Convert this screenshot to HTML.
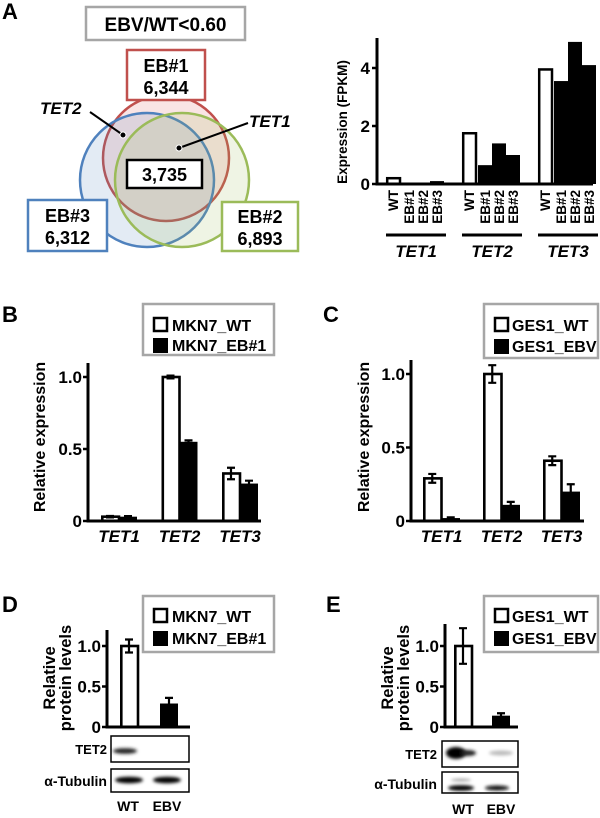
<!DOCTYPE html>
<html><head><meta charset="utf-8">
<style>
html,body{margin:0;padding:0;background:#fff;}
svg{display:block;font-family:"Liberation Sans",sans-serif;font-weight:bold;}
</style></head>
<body>
<svg id="fig" width="600" height="818" viewBox="0 0 600 818" xmlns="http://www.w3.org/2000/svg">
<defs>
<filter id="blur" x="-50%" y="-100%" width="200%" height="300%"><feGaussianBlur stdDeviation="1.6"/></filter>
</defs>
<text x="2" y="19" font-size="22">A</text>
<text x="2" y="322" font-size="22">B</text>
<text x="323" y="322" font-size="22">C</text>
<text x="2" y="612" font-size="22">D</text>
<text x="326" y="612" font-size="22">E</text>

<g>
<circle cx="166" cy="158" r="63" fill="rgba(215,90,90,0.16)" stroke="#c0504d" stroke-width="2.5"/>
<circle cx="147" cy="180" r="67" fill="rgba(79,129,189,0.16)" stroke="#4f81bd" stroke-width="2.5"/>
<circle cx="182" cy="180" r="67" fill="rgba(155,187,89,0.16)" stroke="#9bbb59" stroke-width="2.5"/>
<rect x="86" y="7" width="159" height="33" fill="#fff" stroke="#a6a6a6" stroke-width="2.5"/>
<text x="165.5" y="31" font-size="19" text-anchor="middle">EBV/WT&lt;0.60</text>
<rect x="127" y="50" width="78" height="50" fill="#fff" stroke="#c0504d" stroke-width="2.5"/>
<text x="166" y="72" font-size="18" text-anchor="middle">EB#1</text>
<text x="166" y="94" font-size="18" text-anchor="middle">6,344</text>
<rect x="28" y="200" width="79" height="51" fill="#fff" stroke="#4f81bd" stroke-width="2.5"/>
<text x="67.5" y="222" font-size="18" text-anchor="middle">EB#3</text>
<text x="67.5" y="244" font-size="18" text-anchor="middle">6,312</text>
<rect x="222" y="202" width="76" height="49" fill="#fff" stroke="#9bbb59" stroke-width="2.5"/>
<text x="260" y="223" font-size="18" text-anchor="middle">EB#2</text>
<text x="260" y="245" font-size="18" text-anchor="middle">6,893</text>
<rect x="127" y="160" width="75" height="28" fill="#fff" stroke="#000" stroke-width="2.5"/>
<text x="164.5" y="181" font-size="18" text-anchor="middle">3,735</text>
<line x1="90" y1="112" x2="123" y2="135" stroke="#000" stroke-width="2"/>
<circle cx="123" cy="135" r="3" fill="#000" stroke="#fff" stroke-width="1"/>
<text x="40" y="114" font-size="17" font-style="italic">TET2</text>
<line x1="248" y1="123" x2="179" y2="148" stroke="#000" stroke-width="2"/>
<circle cx="179" cy="148" r="3" fill="#000" stroke="#fff" stroke-width="1"/>
<text x="249" y="127" font-size="17" font-style="italic">TET1</text>
</g>

<g id="chartA"></g>
<g id="chartB"></g>
<g id="chartC"></g>
<g id="chartD"></g>
<g id="chartE"></g>

<g>
<rect x="143" y="304" width="131" height="51" fill="#fff" stroke="#a6a6a6" stroke-width="2.5"/>
<rect x="154" y="318" width="13" height="13" fill="#fff" stroke="#000" stroke-width="2.5"/>
<text x="172" y="331" font-size="16">MKN7_WT</text>
<rect x="153" y="338" width="15" height="15" fill="#000"/>
<text x="172" y="351" font-size="16">MKN7_EB#1</text>
</g>
<g>
<rect x="484" y="304" width="114" height="54" fill="#fff" stroke="#a6a6a6" stroke-width="2.5"/>
<rect x="495" y="318" width="13" height="13" fill="#fff" stroke="#000" stroke-width="2.5"/>
<text x="512" y="331" font-size="16">GES1_WT</text>
<rect x="494" y="339" width="15" height="15" fill="#000"/>
<text x="512" y="352" font-size="16">GES1_EBV</text>
</g>
<g>
<rect x="143" y="596" width="131" height="56" fill="#fff" stroke="#a6a6a6" stroke-width="2.5"/>
<rect x="154" y="609" width="13" height="13" fill="#fff" stroke="#000" stroke-width="2.5"/>
<text x="172" y="622" font-size="16">MKN7_WT</text>
<rect x="153" y="631" width="15" height="15" fill="#000"/>
<text x="172" y="644" font-size="16">MKN7_EB#1</text>
</g>
<g>
<rect x="484" y="596" width="114" height="56" fill="#fff" stroke="#a6a6a6" stroke-width="2.5"/>
<rect x="495" y="609" width="13" height="13" fill="#fff" stroke="#000" stroke-width="2.5"/>
<text x="512" y="622" font-size="16">GES1_WT</text>
<rect x="494" y="631" width="15" height="15" fill="#000"/>
<text x="512" y="644" font-size="16">GES1_EBV</text>
</g>

<g>
<rect x="111" y="736" width="78" height="26" fill="#fff" stroke="#000" stroke-width="1.5"/>
<ellipse cx="125" cy="751" rx="12" ry="2.8" fill="#222" filter="url(#blur)"/>
<rect x="111" y="769" width="78" height="23" fill="#fff" stroke="#000" stroke-width="1.5"/>
<ellipse cx="129" cy="780" rx="14" ry="3.3" fill="#000" filter="url(#blur)"/>
<ellipse cx="167" cy="780" rx="14" ry="3.3" fill="#000" filter="url(#blur)"/>
<text x="107" y="754" font-size="13" text-anchor="end">TET2</text>
<text x="107" y="786" font-size="14" text-anchor="end">α-Tubulin</text>
<text x="128" y="811" font-size="14" text-anchor="middle">WT</text>
<text x="167" y="811" font-size="14" text-anchor="middle">EBV</text>
</g>
<g>
<rect x="442" y="741" width="76" height="26" fill="#fff" stroke="#000" stroke-width="1.5"/>
<ellipse cx="456" cy="753" rx="10" ry="6" fill="#000" filter="url(#blur)"/>
<ellipse cx="468" cy="753" rx="8" ry="3" fill="#222" filter="url(#blur)"/>
<ellipse cx="501" cy="753" rx="12" ry="2.5" fill="#bbb" filter="url(#blur)"/>
<rect x="442" y="772" width="76" height="21" fill="#fff" stroke="#000" stroke-width="1.5"/>
<ellipse cx="461" cy="788" rx="13" ry="2.8" fill="#000" filter="url(#blur)"/>
<ellipse cx="497" cy="788" rx="12" ry="2.5" fill="#111" filter="url(#blur)"/>
<ellipse cx="461" cy="780" rx="10" ry="1.2" fill="#999" filter="url(#blur)"/>
<text x="437" y="759" font-size="13" text-anchor="end">TET2</text>
<text x="437" y="789" font-size="14" text-anchor="end">α-Tubulin</text>
<text x="463" y="814" font-size="14" text-anchor="middle">WT</text>
<text x="501" y="814" font-size="14" text-anchor="middle">EBV</text>
</g>
</svg>
<script>
const fpkmGenes = ["TET1", "TET2", "TET3"];
const fpkmSamples = ["WT", "EB#1", "EB#2", "EB#3"];
const fpkmTET1 = [0.2, 0.05, 0.05, 0.1];
const fpkmTET2 = [1.75, 0.65, 1.4, 1.0];
const fpkmTET3 = [3.95, 3.55, 4.9, 4.1];
const fpkmTicks = [0, 2, 4];
const qpcrGenes = ["TET1", "TET2", "TET3"];
const mkn7WT = [0.03, 1.0, 0.33];
const mkn7WTErr = [0.005, 0.01, 0.04];
const mkn7EB = [0.03, 0.55, 0.26];
const mkn7EBErr = [0.004, 0.01, 0.02];
const ges1WT = [0.29, 1.0, 0.41];
const ges1WTErr = [0.03, 0.06, 0.03];
const ges1EB = [0.02, 0.11, 0.2];
const ges1EBErr = [0.005, 0.02, 0.05];
const relTicks = [0, 0.5, 1.0];
const relTickLabels = ["0", "0.5", "1.0"];
const proteinCats = ["WT", "EBV"];
const mkn7Protein = [1.0, 0.29];
const mkn7ProteinErr = [0.08, 0.07];
const ges1Protein = [1.0, 0.14];
const ges1ProteinErr = [0.22, 0.03];

const NS = "http://www.w3.org/2000/svg";
function mk(parent, tag, attrs, txt) {
  const e = document.createElementNS(NS, tag);
  for (const k in attrs) e.setAttribute(k, attrs[k]);
  if (txt !== undefined) e.textContent = txt;
  parent.appendChild(e);
  return e;
}

(function () {
  const g = document.getElementById("chartA");
  const x0 = 377, y0 = 184, unit = 29, yTop = 38, xEnd = 593;
  const y = v => y0 - v * unit;
  const groupX = i => 386 + i * 76;
  const bw = 14;
  const series = [fpkmTET1, fpkmTET2, fpkmTET3];
  series.forEach((vals, gi) => {
    vals.forEach((v, si) => {
      const bx = groupX(gi) + si * bw + (si > 0 ? 2 : 0);
      let r;
      if (si === 0) {
        r = mk(g, "rect", {x: bx + 1.2, y: y(v), width: bw - 1.2, height: y0 - y(v), fill: "#fff", stroke: "#000", "stroke-width": 2.5});
      } else {
        r = mk(g, "rect", {x: bx, y: y(v), width: bw, height: y0 - y(v), fill: "#000"});
      }
      
      
      const t = mk(g, "text", {x: 0, y: 0, "font-size": 13.5, "text-anchor": "end", transform: "translate(" + (bx + bw / 2 + 5) + ",190) rotate(-90)"}, fpkmSamples[si]);
      
      
    });
    const gl = mk(g, "line", {x1: groupX(gi), x2: groupX(gi) + 60, y1: 235, y2: 235, stroke: "#000", "stroke-width": 3});
    
    
    const gt = mk(g, "text", {x: groupX(gi) + 30, y: 257, "font-size": 17, "font-style": "italic", "text-anchor": "middle"}, fpkmGenes[gi]);
    
    
  });
  const ax = mk(g, "path", {d: "M" + x0 + "," + yTop + "V" + y0 + "H" + xEnd, fill: "none", stroke: "#000", "stroke-width": 3});
  
  
  fpkmTicks.forEach(tv => {
    mk(g, "line", {x1: x0 - 5, x2: x0, y1: y(tv), y2: y(tv), stroke: "#000", "stroke-width": 2.5});
    const tl = mk(g, "text", {x: x0 - 7, y: y(tv) + 6, "font-size": 17, "text-anchor": "end"}, String(tv));
    
    
  });
  const yt = mk(g, "text", {x: 0, y: 0, "font-size": 13.5, "text-anchor": "middle", transform: "translate(347,122) rotate(-90)"}, "Expression (FPKM)");
  
  
})();

function axesAndTitle(g, cfg) {
  const y = v => cfg.y0 - v * cfg.unit;
  const ax = mk(g, "path", {d: "M" + cfg.x0 + "," + cfg.yTop + "V" + cfg.y0 + "H" + cfg.xEnd, fill: "none", stroke: "#000", "stroke-width": 3});
  
  
  relTicks.forEach((tv, k) => {
    mk(g, "line", {x1: cfg.x0 - 5, x2: cfg.x0, y1: y(tv), y2: y(tv), stroke: "#000", "stroke-width": 2.5});
    const tl = mk(g, "text", {x: cfg.x0 - 6, y: y(tv) + 6, "font-size": 17, "text-anchor": "end"}, relTickLabels[k]);
    
    
  });
  cfg.title.forEach((line, k) => {
    const t = mk(g, "text", {x: 0, y: 0, "font-size": cfg.titleSize, "text-anchor": "middle", transform: "translate(" + (cfg.titleX + k * 16) + "," + cfg.titleY + ") rotate(-90)"}, line);
    
    
  });
}
function drawBar(g, prefix, bx, bw, v, e, open, y, y0) {
  let r;
  if (open) r = mk(g, "rect", {x: bx + 1.3, y: y(v), width: bw - 1.3, height: y0 - y(v), fill: "#fff", stroke: "#000", "stroke-width": 2.6});
  else r = mk(g, "rect", {x: bx, y: y(v), width: bw, height: y0 - y(v), fill: "#000"});
  
  
  const cx = bx + bw / 2;
  const eb = mk(g, "path", {d: "M" + cx + "," + y(v - e) + "V" + y(v + e) + "M" + (cx - 4) + "," + y(v + e) + "H" + (cx + 4) + "M" + (cx - 4) + "," + y(v - e) + "H" + (cx + 4), stroke: "#000", "stroke-width": 2.2, fill: "none"});
  
  
}
function qpcrChart(gid, cfg) {
  const g = document.getElementById(gid);
  const y = v => cfg.y0 - v * cfg.unit;
  cfg.cats.forEach((c, i) => {
    const gx = cfg.gx0 + i * cfg.gstep;
    cfg.series.forEach((s, si) => drawBar(g, cfg.prefix, gx + si * cfg.bw, cfg.bw, s.vals[i], s.errs[i], s.open, y, cfg.y0));
    const t = mk(g, "text", {x: gx + cfg.bw, y: cfg.catY, "font-size": 17, "font-style": "italic", "text-anchor": "middle"}, c);
    
    
  });
  axesAndTitle(g, cfg);
}
function proteinChart(gid, cfg) {
  const g = document.getElementById(gid);
  const y = v => cfg.y0 - v * cfg.unit;
  cfg.vals.forEach((v, i) => drawBar(g, cfg.prefix, cfg.gx0 + i * cfg.gstep, 18, v, cfg.errs[i], i === 0, y, cfg.y0));
  axesAndTitle(g, cfg);
}

qpcrChart("chartB", {prefix: "mkn7-qpcr", cats: qpcrGenes, x0: 88, y0: 521, unit: 144, yTop: 363, xEnd: 261, gx0: 101, gstep: 60.5, bw: 18, catY: 542,
  series: [{vals: mkn7WT, errs: mkn7WTErr, open: true}, {vals: mkn7EB, errs: mkn7EBErr, open: false}],
  title: ["Relative expression"], titleX: 45, titleY: 437, titleSize: 16});
qpcrChart("chartC", {prefix: "ges1-qpcr", cats: qpcrGenes, x0: 411, y0: 521, unit: 147, yTop: 360, xEnd: 584, gx0: 423, gstep: 60, bw: 18.5, catY: 542,
  series: [{vals: ges1WT, errs: ges1WTErr, open: true}, {vals: ges1EB, errs: ges1EBErr, open: false}],
  title: ["Relative expression"], titleX: 369, titleY: 437, titleSize: 16});
proteinChart("chartD", {prefix: "mkn7-protein", vals: mkn7Protein, errs: mkn7ProteinErr, x0: 107, y0: 727, unit: 81, yTop: 630, xEnd: 190, gx0: 120, gstep: 40,
  title: ["Relative", "protein levels"], titleX: 55, titleY: 678, titleSize: 16.5});
proteinChart("chartE", {prefix: "ges1-protein", vals: ges1Protein, errs: ges1ProteinErr, x0: 445, y0: 727, unit: 81, yTop: 624, xEnd: 518, gx0: 454, gstep: 38,
  title: ["Relative", "protein levels"], titleX: 393, titleY: 678, titleSize: 16.5});
</script>
</body></html>
